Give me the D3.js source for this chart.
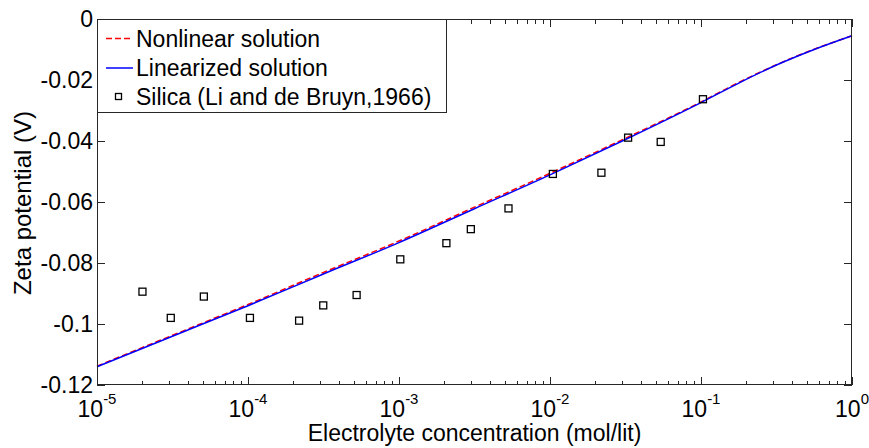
<!DOCTYPE html>
<html>
<head>
<meta charset="utf-8">
<script src="https://cdn.jsdelivr.net/npm/d3@7"></script>
<style>
  html, body { margin: 0; padding: 0; background: #ffffff; }
  svg { display: block; font-family: "Liberation Sans", Arial, sans-serif; }
</style>
</head>
<body>
<svg id="chart" width="869" height="448"></svg>
<script>
// ---- data ----
const curveConc = [1e-5, 3.16e-5, 1e-4, 3.16e-4, 1e-3, 3.16e-3, 1e-2, 3.16e-2, 1e-1, 1.78e-1, 3.16e-1, 5.62e-1, 1];
const nonlinearZeta = [-0.1138, -0.1037, -0.0936, -0.0831, -0.0728, -0.0617, -0.0506, -0.0391, -0.0272, -0.0208, -0.0150, -0.0099, -0.0055];
const linearizedZeta = [-0.1140, -0.1040, -0.0940, -0.0836, -0.0733, -0.0622, -0.0511, -0.0395, -0.0274, -0.0210, -0.0151, -0.0100, -0.0055];

const silicaConc = [2.0e-5, 3.08e-5, 5.1e-5, 1.03e-4, 2.18e-4, 3.15e-4, 5.24e-4, 1.02e-3, 2.06e-3, 2.99e-3, 5.31e-3, 1.045e-2, 2.19e-2, 3.29e-2, 5.41e-2, 1.03e-1];
const silicaZeta = [-0.0894, -0.0980, -0.0910, -0.0980, -0.0989, -0.0939, -0.0905, -0.0788, -0.0735, -0.0689, -0.0621, -0.0508, -0.0504, -0.0389, -0.0403, -0.0263];

const xTickExps = [-5, -4, -3, -2, -1, 0];
const yTicks = [0, -0.02, -0.04, -0.06, -0.08, -0.1, -0.12];
const yTickLabels = ["0", "-0.02", "-0.04", "-0.06", "-0.08", "-0.1", "-0.12"];
const legendLabels = ["Nonlinear solution", "Linearized solution", "Silica (Li and de Bruyn,1966)"];
const xLabel = "Electrolyte concentration (mol/lit)";
const yLabel = "Zeta potential (V)";

// ---- layout ----
const L = 97, R = 852, T = 19, B = 385;
const svg = d3.select("#chart");
svg.append("rect").attr("width", 869).attr("height", 448).attr("fill", "#fff");

const x = d3.scaleLog().domain([1e-5, 1]).range([L, R]);
const y = d3.scaleLinear().domain([-0.12, 0]).range([B, T]);

const axisColor = "#262626";
const FS = 23;

// minor & major x ticks (inward, top and bottom)
const minorX = [];
for (let e = -5; e < 0; e++) for (let m = 2; m <= 9; m++) minorX.push(m * Math.pow(10, e));
const tickG = svg.append("g").attr("stroke", axisColor).attr("stroke-width", 1).attr("shape-rendering", "crispEdges");
minorX.forEach(v => {
  const px = Math.round(x(v)) + 0.5;
  tickG.append("line").attr("x1", px).attr("x2", px).attr("y1", B).attr("y2", B - 4.5);
  tickG.append("line").attr("x1", px).attr("x2", px).attr("y1", T).attr("y2", T + 4.5);
});
xTickExps.forEach(e => {
  const px = Math.round(x(Math.pow(10, e))) + 0.5;
  tickG.append("line").attr("x1", px).attr("x2", px).attr("y1", B).attr("y2", B - 8);
  tickG.append("line").attr("x1", px).attr("x2", px).attr("y1", T).attr("y2", T + 8);
});
yTicks.forEach(v => {
  const py = Math.round(y(v)) + 0.5;
  tickG.append("line").attr("x1", L).attr("x2", L + 8).attr("y1", py).attr("y2", py);
  tickG.append("line").attr("x1", R).attr("x2", R - 8).attr("y1", py).attr("y2", py);
});

// curves
const line = d3.line().x(d => x(d[0])).y(d => y(d[1])).curve(d3.curveMonotoneX);
svg.append("path")
  .datum(curveConc.map((c, i) => [c, nonlinearZeta[i]]))
  .attr("d", line).attr("fill", "none").attr("stroke", "#ff0000")
  .attr("stroke-width", 1.5).attr("stroke-dasharray", "6,3");
svg.append("path")
  .datum(curveConc.map((c, i) => [c, linearizedZeta[i]]))
  .attr("d", line).attr("fill", "none").attr("stroke", "#0000ff")
  .attr("stroke-width", 1.5);

// silica markers
svg.append("g").selectAll("rect")
  .data(silicaConc.map((c, i) => [c, silicaZeta[i]]))
  .join("rect")
  .attr("x", d => x(d[0]) - 3.5).attr("y", d => y(d[1]) - 3.5)
  .attr("width", 7).attr("height", 7)
  .attr("fill", "none").attr("stroke", "#000").attr("stroke-width", 1.3);

// axis box
svg.append("rect").attr("x", L + 0.5).attr("y", T + 0.5).attr("width", R - L - 1).attr("height", B - T - 1)
  .attr("fill", "none").attr("stroke", axisColor).attr("stroke-width", 1).attr("shape-rendering", "crispEdges");

// y tick labels
svg.append("g").selectAll("text").data(yTicks).join("text")
  .attr("x", L - 4).attr("y", d => y(d)).attr("dy", "0.35em")
  .attr("text-anchor", "end").attr("font-size", FS).attr("fill", "#000")
  .text((d, i) => yTickLabels[i]);

// x tick labels 10^e
xTickExps.forEach(e => {
  const t = svg.append("text").attr("x", x(Math.pow(10, e))).attr("y", 416.5)
    .attr("text-anchor", "middle").attr("font-size", FS).attr("fill", "#000");
  t.append("tspan").text("10");
  t.append("tspan").attr("font-size", 15).attr("dy", -13).text(String(e));
});

// axis labels
svg.append("text").attr("x", (L + R) / 2).attr("y", 441).attr("text-anchor", "middle")
  .attr("font-size", FS).attr("fill", "#000").text(xLabel);
svg.append("text").attr("transform", `translate(31,${(T + B) / 2 + 1}) rotate(-90)`)
  .attr("text-anchor", "middle").attr("font-size", 24).attr("fill", "#000").text(yLabel);

// legend
const lg = svg.append("g");
lg.append("rect").attr("x", L + 0.5).attr("y", T + 0.5).attr("width", 446 - L).attr("height", 112 - T)
  .attr("fill", "#fff").attr("stroke", axisColor).attr("stroke-width", 1).attr("shape-rendering", "crispEdges");
const rowY = [38.5, 68, 96.5];
lg.append("line").attr("x1", 106).attr("x2", 133).attr("y1", rowY[0]).attr("y2", rowY[0])
  .attr("stroke", "#ff0000").attr("stroke-width", 1.5).attr("stroke-dasharray", "6,3");
lg.append("line").attr("x1", 106).attr("x2", 133).attr("y1", rowY[1]).attr("y2", rowY[1])
  .attr("stroke", "#0000ff").attr("stroke-width", 1.5);
lg.append("rect").attr("x", 118.5 - 3).attr("y", rowY[2] - 3).attr("width", 6).attr("height", 6)
  .attr("fill", "none").attr("stroke", "#000").attr("stroke-width", 1.3);
legendLabels.forEach((s, i) => {
  lg.append("text").attr("x", 136).attr("y", rowY[i]).attr("dy", "0.35em")
    .attr("font-size", FS).attr("fill", "#000").text(s);
});
</script>
</body>
</html>
